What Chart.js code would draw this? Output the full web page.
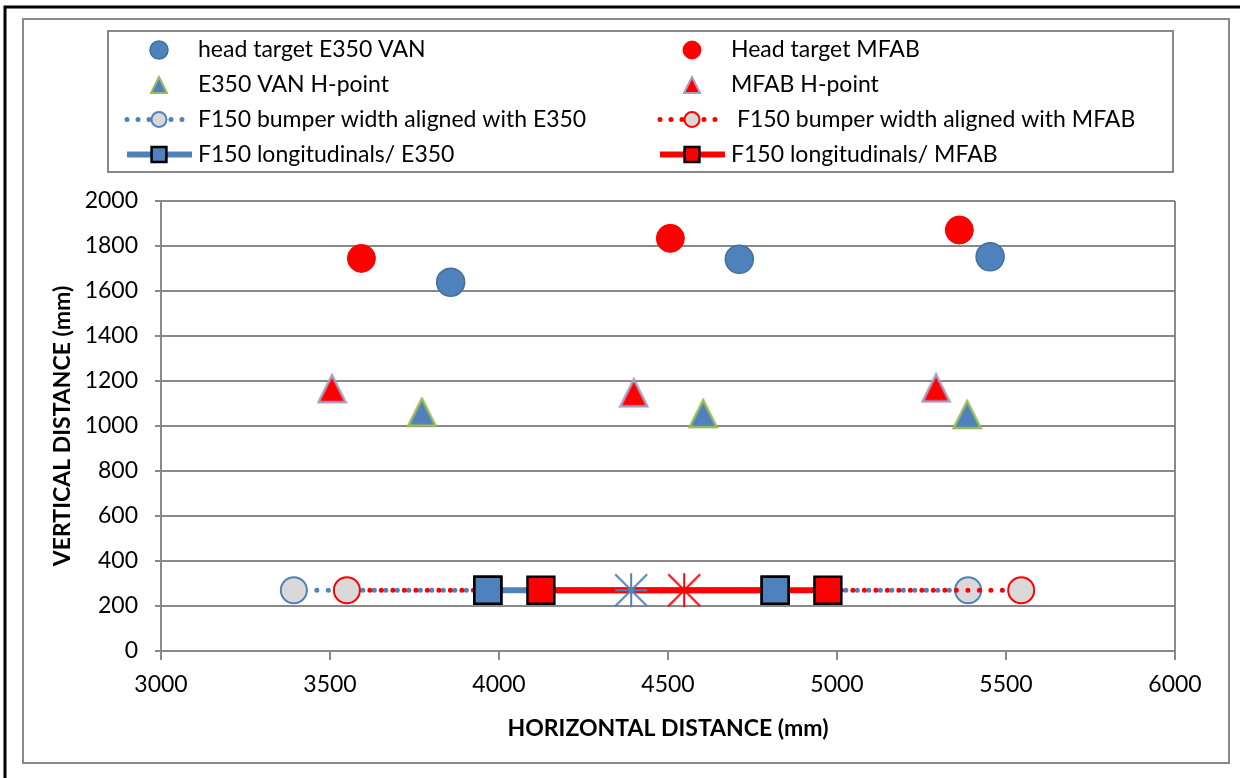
<!DOCTYPE html>
<html>
<head>
<meta charset="utf-8">
<script src="https://cdn.jsdelivr.net/npm/chart.js@4.4.1/dist/chart.umd.min.js"></script>
<style>
  html, body { margin: 0; padding: 0; background: #fff; }
  canvas { display: block; }
</style>
</head>
<body>
<canvas id="c" width="1240" height="778"></canvas>
<script>
// ---- data ----
const headE350X = [3857, 4711, 5453];
const headE350Y = [1639, 1741, 1752];
const headMFABX = [3593, 4507, 5362];
const headMFABY = [1745, 1834, 1871];
const hpointE350X = [3772, 4604, 5385];
const hpointE350Y = [1062, 1055, 1051];
const hpointMFABX = [3506, 4399, 5293];
const hpointMFABY = [1166, 1147, 1169];
const bumperE350X = [3393, 5388];
const bumperE350Y = [270, 270];
const bumperMFABX = [3550, 5545];
const bumperMFABY = [270, 270];
const longE350X = [3967, 4817];
const longE350Y = [270, 270];
const longMFABX = [4124, 4973];
const longMFABY = [270, 270];
const centerE350X = [4391];
const centerE350Y = [270];
const centerMFABX = [4548];
const centerMFABY = [270];

const seriesLabels = [
  'head target E350 VAN',
  'Head target MFAB',
  'E350 VAN H-point',
  'MFAB H-point',
  'F150 bumper width aligned with E350',
  ' F150 bumper width aligned with MFAB',
  'F150 longitudinals/ E350',
  'F150 longitudinals/ MFAB'
];
const xTickValues = [3000, 3500, 4000, 4500, 5000, 5500, 6000];
const yTickValues = [0, 200, 400, 600, 800, 1000, 1200, 1400, 1600, 1800, 2000];
const xTitle = 'HORIZONTAL DISTANCE (mm)';
const yTitle = 'VERTICAL DISTANCE (mm)';

const pts = (xs, ys) => xs.map((x, i) => ({ x: x, y: ys[i] }));

const BLUE = '#4F81BD', RED = '#FF0000', GRID = '#898989';
const FONT = 'Lato';

function starCanvas(color) {
  const c = document.createElement('canvas');
  c.width = 36; c.height = 36;
  const g = c.getContext('2d');
  g.strokeStyle = color; g.lineWidth = 2;
  g.beginPath();
  g.moveTo(2, 2); g.lineTo(34, 34);
  g.moveTo(34, 2); g.lineTo(2, 34);
  g.moveTo(18, 1); g.lineTo(18, 35);
  g.moveTo(2, 18); g.lineTo(34, 18);
  g.stroke();
  return c;
}
function triCanvas(fill, stroke, size, lw) {
  const c = document.createElement('canvas');
  const s = size + 4;
  c.width = s; c.height = s;
  const g = c.getContext('2d');
  g.fillStyle = fill; g.strokeStyle = stroke; g.lineWidth = lw;
  g.lineJoin = 'miter';
  g.beginPath();
  g.moveTo(s / 2, 2);
  g.lineTo(s - 2, s - 2);
  g.lineTo(2, s - 2);
  g.closePath();
  g.fill(); g.stroke();
  return c;
}

const datasets = [
  { label: seriesLabels[0], data: pts(headE350X, headE350Y), showLine: false,
    pointStyle: 'circle', pointRadius: 14, pointHoverRadius: 14,
    backgroundColor: BLUE, borderColor: '#41719C', pointBorderWidth: 1.5, order: 20, leg: { col: 0, row: 0, r: 9 } },
  { label: seriesLabels[1], data: pts(headMFABX, headMFABY), showLine: false,
    pointStyle: 'circle', pointRadius: 14, pointHoverRadius: 14,
    backgroundColor: RED, borderColor: RED, pointBorderWidth: 1, order: 19, leg: { col: 1, row: 0, r: 9 } },
  { label: seriesLabels[2], data: pts(hpointE350X, hpointE350Y), showLine: false,
    pointStyle: triCanvas(BLUE, '#9BBB59', 27, 2.5), pointRadius: 14, pointHoverRadius: 14,
    backgroundColor: BLUE, borderColor: '#9BBB59', pointBorderWidth: 2.5, order: 18,
    leg: { col: 0, row: 1, img: triCanvas(BLUE, '#9BBB59', 16, 2) } },
  { label: seriesLabels[3], data: pts(hpointMFABX, hpointMFABY), showLine: false,
    pointStyle: triCanvas(RED, '#A89CC4', 27, 2.5), pointRadius: 14, pointHoverRadius: 14,
    backgroundColor: RED, borderColor: '#A89CC4', pointBorderWidth: 2.5, order: 17,
    leg: { col: 1, row: 1, img: triCanvas(RED, '#A89CC4', 16, 2) } },
  { label: seriesLabels[4], data: pts(bumperE350X, bumperE350Y), showLine: true,
    borderColor: BLUE, borderWidth: 5, borderDash: [0, 11.5], borderCapStyle: 'round',
    pointStyle: 'circle', pointRadius: 13, pointHoverRadius: 13,
    pointBackgroundColor: '#D9D9D9', pointBorderColor: BLUE, pointBorderWidth: 2, order: 16,
    leg: { col: 0, row: 2, r: 7.5, line: 'dot' } },
  { label: seriesLabels[5], data: pts(bumperMFABX, bumperMFABY), showLine: true,
    borderColor: RED, borderWidth: 5, borderDash: [0, 11.5], borderCapStyle: 'round',
    pointStyle: 'circle', pointRadius: 13, pointHoverRadius: 13,
    pointBackgroundColor: '#D9D9D9', pointBorderColor: RED, pointBorderWidth: 2, order: 15,
    leg: { col: 1, row: 2, r: 7.5, line: 'dot' } },
  { label: seriesLabels[6], data: pts(longE350X, longE350Y), showLine: true,
    borderColor: BLUE, borderWidth: 6,
    pointStyle: 'rect', pointRadius: 19, pointHoverRadius: 19,
    pointBackgroundColor: BLUE, pointBorderColor: '#000', pointBorderWidth: 2.5, order: 14,
    leg: { col: 0, row: 3, r: 10.5, line: 'solid' } },
  { label: seriesLabels[7], data: pts(longMFABX, longMFABY), showLine: true,
    borderColor: RED, borderWidth: 6,
    pointStyle: 'rect', pointRadius: 19, pointHoverRadius: 19,
    pointBackgroundColor: RED, pointBorderColor: '#000', pointBorderWidth: 2.5, order: 13,
    leg: { col: 1, row: 3, r: 10.5, line: 'solid' } },
  // E350 longitudinal markers sit above the MFAB line in the reference
  { label: '', data: pts(longE350X, longE350Y), showLine: false,
    pointStyle: 'rect', pointRadius: 19, pointHoverRadius: 19,
    pointBackgroundColor: BLUE, pointBorderColor: '#000', pointBorderWidth: 2.5, order: 12 },
  { label: '', data: pts(centerE350X, centerE350Y), showLine: false,
    pointStyle: starCanvas(BLUE), pointRadius: 18, order: 11 },
  { label: '', data: pts(centerMFABX, centerMFABY), showLine: false,
    pointStyle: starCanvas(RED), pointRadius: 18, order: 10 }
];

const framePlugin = {
  id: 'frame',
  beforeDraw(chart) {
    const ctx = chart.ctx;
    ctx.save();
    ctx.fillStyle = '#fff';
    ctx.fillRect(0, 0, chart.width, chart.height);
    ctx.strokeStyle = '#000'; ctx.lineWidth = 3;
    ctx.beginPath();
    ctx.moveTo(5, chart.height + 5); ctx.lineTo(5, 7); ctx.lineTo(chart.width + 5, 7);
    ctx.stroke();
    ctx.strokeStyle = GRID; ctx.lineWidth = 2;
    ctx.strokeRect(23, 19, 1229 - 23, 763 - 19);
    ctx.restore();
  }
};

const legendPlugin = {
  id: 'gridLegend',
  afterDraw(chart) {
    const ctx = chart.ctx;
    const H = Chart.helpers;
    ctx.save();
    ctx.strokeStyle = GRID; ctx.lineWidth = 2;
    ctx.strokeRect(108, 31, 1173 - 108, 172 - 31);
    const colX = [125, 658];
    const rowY = [50, 85, 119.5, 154.5];
    ctx.font = '23px ' + FONT;
    ctx.textBaseline = 'middle';
    ctx.textAlign = 'left';
    chart.data.datasets.forEach(ds => {
      if (!ds.leg) return;
      const x0 = colX[ds.leg.col], y = rowY[ds.leg.row];
      const mx = x0 + 34, x1 = x0 + 67;
      if (ds.leg.line) {
        ctx.save();
        ctx.strokeStyle = ds.borderColor;
        ctx.lineWidth = ds.borderWidth;
        ctx.lineCap = ds.leg.line === 'dot' ? 'round' : 'butt';
        ctx.setLineDash(ds.leg.line === 'dot' ? [0, 11] : []);
        ctx.beginPath();
        ctx.moveTo(x0 + 2, y); ctx.lineTo(x1, y);
        ctx.stroke();
        ctx.restore();
      }
      ctx.save();
      if (ds.leg.img) {
        ctx.drawImage(ds.leg.img, mx - ds.leg.img.width / 2, y - ds.leg.img.height / 2);
      } else {
        ctx.fillStyle = ds.pointBackgroundColor || ds.backgroundColor;
        ctx.strokeStyle = ds.pointBorderColor || ds.borderColor;
        ctx.lineWidth = ds.pointBorderWidth;
        ctx.setLineDash([]);
        H.drawPoint(ctx, { pointStyle: ds.pointStyle, radius: ds.leg.r, rotation: 0, borderWidth: ds.pointBorderWidth }, mx, y);
      }
      ctx.restore();
      ctx.fillStyle = '#000';
      ctx.fillText(ds.label, x1 + 6, y);
    });
    ctx.restore();
  }
};

Chart.defaults.font.family = FONT;
Chart.defaults.font.size = 23;
Chart.defaults.color = '#000';

new Chart(document.getElementById('c'), {
  type: 'scatter',
  data: { datasets: datasets },
  options: {
    responsive: false,
    animation: false,
    devicePixelRatio: 1,
    events: [],
    layout: { padding: { left: 23, top: 201, right: 65, bottom: 15 } },
    plugins: { legend: { display: false }, tooltip: { enabled: false } },
    scales: {
      x: {
        type: 'linear', min: 3000, max: 6000,
        afterFit: s => { s.height = 112; },
        afterBuildTicks: s => { s.ticks = xTickValues.map(v => ({ value: v })); },
        ticks: { padding: 11, font: { size: 23 }, color: '#000', callback: v => String(v) },
        grid: {
          drawOnChartArea: true, drawTicks: true, tickLength: 9, tickWidth: 2,
          tickColor: GRID, lineWidth: 2,
          color: c => (c.tick && c.tick.value === 6000) ? GRID : 'rgba(0,0,0,0)'
        },
        border: { display: true, color: GRID, width: 2 },
        title: { display: true, text: xTitle, font: { size: 23, weight: 'bold' }, color: '#000',
                 padding: { top: 0, bottom: 21 } }
      },
      y: {
        type: 'linear', min: 0, max: 2000,
        afterFit: s => { s.width = 138; },
        afterBuildTicks: s => { s.ticks = yTickValues.map(v => ({ value: v })); },
        ticks: { padding: 17, font: { size: 23 }, color: '#000', callback: v => String(v) },
        grid: { color: GRID, lineWidth: 2, tickLength: 6, tickColor: GRID },
        border: { display: true, color: GRID, width: 2 },
        title: { display: true, text: yTitle, font: { size: 23, weight: 'bold' }, color: '#000',
                 padding: { top: 26, bottom: 0 } }
      }
    }
  },
  plugins: [framePlugin, legendPlugin]
});
</script>
</body>
</html>
